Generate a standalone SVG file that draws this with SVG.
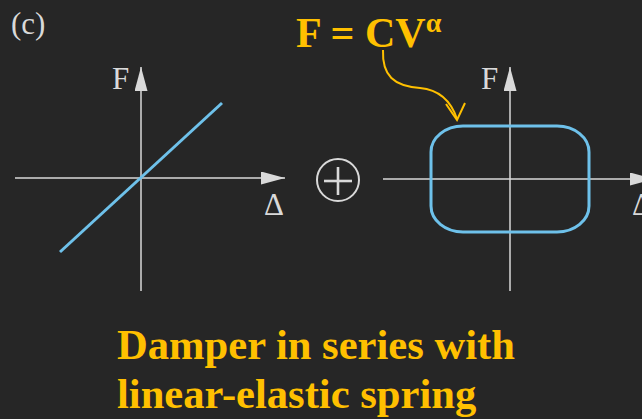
<svg xmlns="http://www.w3.org/2000/svg" width="642" height="419" viewBox="0 0 642 419">
<defs>
<style>
.axis{stroke:#D9D9D9;stroke-width:1.5;fill:none}
.curve{stroke:#6EC1EA;stroke-width:3;fill:none}
.lbl{fill:#D9D9D9;font-size:31px}
.gold{fill:#FFC000;font-weight:bold}
</style>
<marker id="ah" markerUnits="userSpaceOnUse" markerWidth="24" markerHeight="13" refX="24" refY="6.5" orient="auto">
<polygon points="0,0 24,6.5 0,13" fill="#D9D9D9"/>
</marker>
</defs>
<rect width="642" height="419" fill="#262626"/>
<g font-family="'Liberation Serif', 'Times New Roman', 'DejaVu Serif', serif">
<g id="label-c"><text x="11" y="34" class="lbl" font-size="32">(c)</text></g>
<g id="plot-spring">
<line class="axis" x1="141" y1="291" x2="141" y2="67" marker-end="url(#ah)"/>
<line class="axis" x1="15" y1="178" x2="285" y2="178" marker-end="url(#ah)"/>
<line class="curve" x1="60" y1="252" x2="222" y2="103"/>
<text x="112" y="89" class="lbl">F</text>
<text x="264" y="215" class="lbl">Δ</text>
</g>
<g id="plus">
<circle cx="338" cy="180" r="21" fill="none" stroke="#D9D9D9" stroke-width="2"/>
<line x1="324" y1="181" x2="352" y2="181" stroke="#D9D9D9" stroke-width="2.6"/>
<line x1="338" y1="167" x2="338" y2="195" stroke="#D9D9D9" stroke-width="2.6"/>
</g>
<g id="plot-damper">
<line class="axis" x1="510" y1="291" x2="510" y2="67" marker-end="url(#ah)"/>
<line class="axis" x1="383" y1="179" x2="654" y2="179" marker-end="url(#ah)"/>
<rect class="curve" x="431" y="126" width="158" height="106" rx="32" ry="26"/>
<text x="481" y="89" class="lbl">F</text>
<text x="632" y="215" class="lbl">Δ</text>
</g>
<g id="formula">
<text x="296" y="47" class="gold" font-size="42">F = CV<tspan font-size="28" dy="-15">α</tspan></text>
</g>
<g id="connectors">
<path d="M383,50 C382,76 394,86 420,88 C442,90 452,104 457,119" fill="none" stroke="#FFC000" stroke-width="2"/>
<polyline points="446,104 457,120 465,103" fill="none" stroke="#FFC000" stroke-width="2"/>
</g>
<g id="caption">
<text x="117" y="359" class="gold" font-size="42.6">Damper in series with</text>
<text x="117" y="408" class="gold" font-size="42.6">linear-elastic spring</text>
</g>
</g>
</svg>
